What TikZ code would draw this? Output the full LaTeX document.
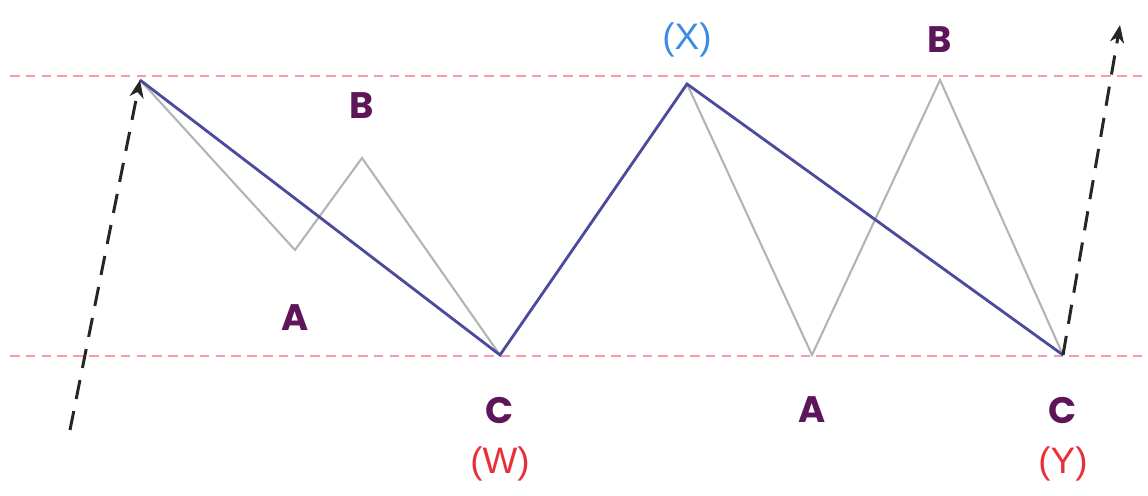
\documentclass[tikz,border=0pt]{standalone}
\usepackage{fontspec}
\setmainfont{Liberation Sans}
\newfontfamily\wavefont{Poppins}
\usepackage{tikz}
\usetikzlibrary{arrows.meta,positioning}

\definecolor{wavePurple}{HTML}{5C1659}
\definecolor{waveBlue}{HTML}{4B4B9B}
\definecolor{waveGray}{HTML}{B4B4B4}
\definecolor{chanRed}{HTML}{F2A0A4}
\definecolor{tagRed}{HTML}{E8303A}
\definecolor{tagBlue}{HTML}{3C8CE6}

\begin{document}
\begin{tikzpicture}[
    x=0.02cm, y=-0.02cm,
    >={Stealth[length=10pt,width=8pt,inset=3pt]},
    chan/.style={draw=chanRed, line width=1.3pt, dash pattern=on 5.5pt off 3.5pt},
    major/.style={draw=waveBlue, line width=1.6pt, line join=miter},
    minor/.style={draw=waveGray, line width=1.2pt},
    trend/.style={->, black!85, line width=1.7pt, dash pattern=on 11pt off 7pt},
    wlbl/.style={text=wavePurple, font=\wavefont\fontsize{21}{24}\selectfont\bfseries, inner sep=1pt},
    tlbl/.style={font=\fontsize{21}{24}\selectfont, inner sep=1pt},
  ]
  \useasboundingbox (0,0) rectangle (1148,496);

  %% ===== CHANNEL =====
  \coordinate (chTopL) at (10,76);
  \coordinate (chTopR) at (1148,76);
  \coordinate (chBotL) at (10,356);
  \coordinate (chBotR) at (1148,356);
  \draw[chan] (chTopL) -- (chTopR);
  \draw[chan] (chBotL) -- (chBotR);

  %% ===== TURNING POINTS =====
  \coordinate (start) at (140,80);
  \coordinate (a1)    at (295,250);
  \coordinate (b1)    at (362,158);
  \coordinate (w)     at (500,355);
  \coordinate (x)     at (687,84);
  \coordinate (a2)    at (812,355);
  \coordinate (b2)    at (940,80);
  \coordinate (y)     at (1063,355);
  \coordinate (inL)   at (70,430);
  \coordinate (outR)  at (1120,25);

  %% minor waves (gray)
  \draw[minor] (start) -- (a1) -- (b1) -- (w);
  \draw[minor] (x) -- (a2) -- (b2) -- (y);

  %% W-X-Y legs (blue)
  \draw[major] (start) -- (w) -- (x) -- (y);

  %% trend in / out
  \draw[trend] (inL) -- (start);
  \draw[trend] (y) -- (outR);

  %% ===== LABELS =====
  \node[wlbl] (lblA1) at (295,318) {A};
  \node[wlbl] (lblB1) at (362,106) {B};
  \node[wlbl] (lblC1) at (500,410) {C};
  \node[tlbl, text=tagRed] (lblW) at (500,464) {(W)};
  \node[tlbl, text=tagBlue] (lblX) at (687,40) {(X)};
  \node[wlbl] (lblB2) at (940,40) {B};
  \node[wlbl] (lblA2) at (812,410) {A};
  \node[wlbl] (lblC2) at (1063,410) {C};
  \node[tlbl, text=tagRed] (lblY) at (1063,464) {(Y)};

\end{tikzpicture}
\end{document}
